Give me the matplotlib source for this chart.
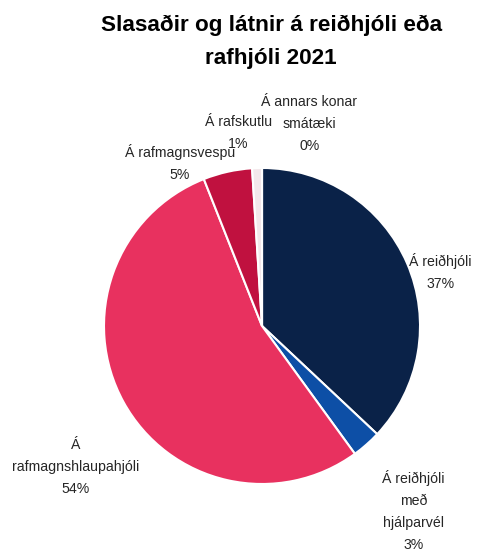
import matplotlib
matplotlib.use("Agg")
from matplotlib import pyplot as plt

# Gögn
flokkar = ["Á reiðhjóli", "Á reiðhjóli\nmeð\nhjálparvél", "Á\nrafmagnshlaupahjóli",
           "Á rafmagnsvespu", "Á rafskutlu", "Á annars konar\nsmátæki"]
hlutfall = [37, 3, 54, 5, 1, 0]
litir = ["#0A2248", "#0D4FA6", "#E8315F", "#C0113F", "#F3E8EB", "#FFFFFF"]

# staðsetning merkja (pie-hnit)
merki_xy = [(1.13, 0.34), (0.96, -1.17), (-1.18, -0.89),
            (-0.52, 1.03), (-0.15, 1.22), (0.30, 1.28)]

plt.rcParams['font.family'] = ['Liberation Sans', 'DejaVu Sans']

fig = plt.figure(figsize=(4.92, 5.52), dpi=100)
ax = fig.add_axes([0.2114, 0.1232, 0.6423, 0.5725])

ax.pie(hlutfall, colors=litir, startangle=90, counterclock=False,
       wedgeprops=dict(edgecolor="white", linewidth=1.5))
ax.set_xlim(-1, 1)
ax.set_ylim(-1, 1)
ax.set_aspect('equal')

for nafn, p, (x, y) in zip(flokkar, hlutfall, merki_xy):
    ax.text(x, y, nafn + "\n" + str(p) + "%", ha="center", va="center",
            fontsize=10.2, color="#262626", linespacing=1.72, clip_on=False)

fig.text(0.551, 0.924, "Slasaðir og látnir á reiðhjóli eða\nrafhjóli 2021",
         ha="center", va="center", fontsize=16.2, fontweight="bold",
         linespacing=1.75)

fig.savefig("out.png", dpi=100)
